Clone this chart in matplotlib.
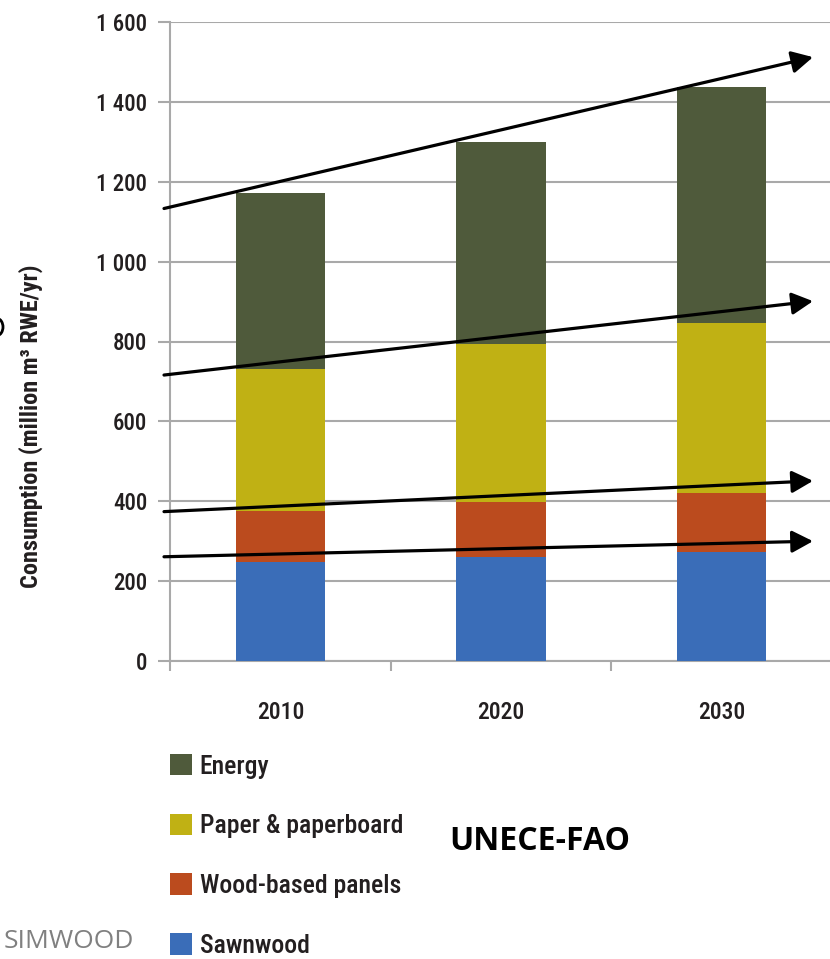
import matplotlib
matplotlib.use("Agg")
import numpy as np
from matplotlib import pyplot as plt
from matplotlib import font_manager as fm
from matplotlib.patches import Arc

years = ["2010", "2020", "2030"]
sawnwood = [247, 260, 274]
panels = [129, 139, 147]
paper = [355, 395, 426]
energy = [441, 506, 591]

series_names = ["Sawnwood", "Wood-based panels", "Paper & paperboard", "Energy"]
series_colors = ["#3a6db8", "#bb4b1e", "#c0b114", "#4f5a3b"]

# trend arrows (start value at left edge, end value at the tip)
trend_start = [1133, 716, 374, 261]
trend_end = [1512, 901, 451, 300]

y_ticks = [0, 200, 400, 600, 800, 1000, 1200, 1400, 1600]

GRID = "#a9a9a9"
INK = "#231f20"


def px(x, y):
    # pixel position -> figure fraction
    return x / 830, 1 - y / 959


def weight_num(w):
    if isinstance(w, str):
        return fm.weight_dict.get(w, 400)
    return w


def narrow_font(target=400):
    # look for some condensed / narrow face among the installed fonts
    order = ["liberation sans narrow", "roboto condensed", "noto sans", "open sans",
             "dejavu sans", "roboto", "lato", "inter"]
    best = None
    for f in fm.fontManager.ttflist:
        name = f.name.lower()
        st = str(f.stretch).lower()
        if not ("narrow" in name or "condensed" in name or "condensed" in st):
            continue
        if "extra" in st or "ultra" in st or "semi" in st or f.style != "normal":
            continue
        w = weight_num(f.weight)
        rank = len(order)
        for i, o in enumerate(order):
            if name.startswith(o):
                rank = i
                break
        score = (rank, abs(w - target))
        if best is None or score < best[0]:
            best = (score, f.fname)
    if best is None:
        return fm.FontProperties(family="DejaVu Sans", weight=target)
    return fm.FontProperties(fname=best[1])


def sized(fp, size):
    p = fp.copy()
    p.set_size(size)
    return p


def main():
    med = narrow_font(500)
    bold = narrow_font(700)

    fig = plt.figure(figsize=(8.3, 9.59), dpi=100)
    ax = fig.add_axes([170 / 830, 298 / 959, 662 / 830, 639 / 959])

    x = np.arange(len(years))
    bottom = np.zeros(len(years))
    bars = []
    for name, vals, col in zip(series_names, [sawnwood, panels, paper, energy], series_colors):
        b = ax.bar(x, vals, width=0.405, bottom=bottom, color=col, label=name, zorder=3)
        bars.append(b)
        bottom += np.array(vals)

    ax.set_xlim(-0.5, 2.5)
    ax.set_ylim(0, 1600)

    # boundaries as ticks, year labels as minor ticks
    ax.set_xticks([-0.5, 0.5, 1.5, 2.5])
    ax.set_xticklabels([])
    ax.set_xticks(x, minor=True)
    ax.set_xticklabels(years, minor=True, fontproperties=sized(med, 17), color=INK)
    ax.tick_params(axis="x", which="major", length=7.5, width=1.5, color=GRID, direction="out")
    ax.tick_params(axis="x", which="minor", length=0, pad=29)

    ax.set_yticks(y_ticks)
    ax.set_yticklabels([f"{v:,}".replace(",", " ") for v in y_ticks],
                       fontproperties=sized(med, 16.5), color=INK)
    ax.tick_params(axis="y", length=8.5, width=1.5, color=GRID, pad=8)

    ax.grid(axis="y", color=GRID, linewidth=1.5, zorder=0)
    for s in ["top", "right"]:
        ax.spines[s].set_visible(False)
    for s in ["left", "bottom"]:
        ax.spines[s].set_color(GRID)
        ax.spines[s].set_linewidth(1.5)

    fig.text(*px(31, 426), "Consumption (million m³ RWE/yr)", rotation=90,
             ha="center", va="center", fontproperties=sized(bold, 17.5), color=INK)

    # trend arrows
    x0 = -0.5 - 6 / 220.67
    x1 = -0.5 + 643 / 220.67
    for ys, ye in zip(trend_start, trend_end):
        ax.annotate("", xy=(x1, ye), xytext=(x0, ys), annotation_clip=False,
                    arrowprops=dict(arrowstyle="-|>,head_length=0.8,head_width=0.42",
                                    mutation_scale=16, lw=2.3, color="black",
                                    shrinkA=0, shrinkB=0), zorder=5)

    handles = bars[::-1]
    labels = series_names[::-1]
    fig.legend(handles, labels, loc="upper left", bbox_to_anchor=px(170, 754),
               frameon=False, prop=sized(med, 18.5), handlelength=0.85, handleheight=0.9,
               handletextpad=0.3, labelspacing=1.37, borderpad=0, borderaxespad=0,
               labelcolor=INK)

    fig.text(*px(540, 842), "UNECE-FAO", ha="center", va="center", fontsize=23,
             fontweight="bold", family="Open Sans", color="black")
    fig.text(*px(4, 941), "SIMWOOD", ha="left", va="center", fontsize=19,
             family="Open Sans", color="#808080")

    # sliver of a cut-off glyph at the left edge
    fig.add_artist(Arc(px(-4, 327), 14 / 830, 18 / 959, theta1=-80, theta2=80,
                       transform=fig.transFigure, color="black", lw=2))

    fig.savefig("out.png", dpi=100)


if __name__ == "__main__":
    main()
